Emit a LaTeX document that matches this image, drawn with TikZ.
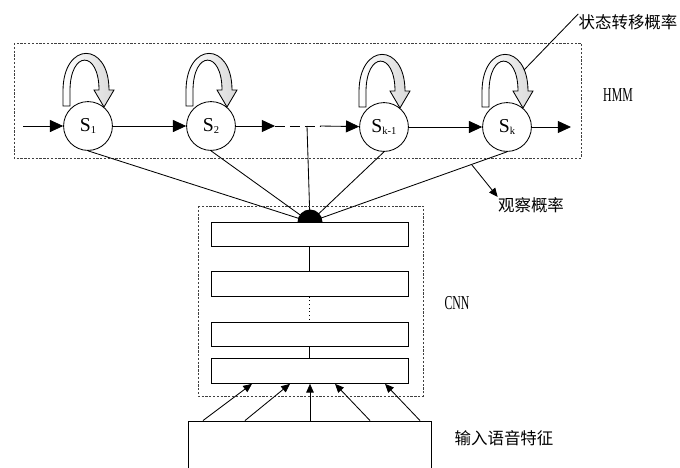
\documentclass[tikz,border=0pt]{standalone}
\usepackage{fontspec}
\usepackage{graphicx}
\setmainfont{Liberation Serif}
\newfontfamily\cjk{Noto Sans CJK SC}
\usetikzlibrary{arrows.meta}
\newcommand\statesub[1]{\raisebox{-0.3ex}{\fontsize{7.5}{8}\selectfont #1}}
\newcommand\narrowtext[1]{\scalebox{0.6}[1]{\fontsize{14}{14}\selectfont #1}}

\begin{document}
\begin{tikzpicture}[x=0.025cm,y=-0.025cm,line width=0.6pt]
\useasboundingbox (0,0) rectangle (680,468);
\clip (0,0) rectangle (680,468);

\tikzset{state/.style={circle,draw,fill=white,minimum size=1.22cm,inner sep=0pt,font=\fontsize{14}{14}\selectfont}};
\tikzset{layer/.style={rectangle,draw,minimum width=4.925cm,minimum height=0.62cm,inner sep=0pt}};
\tikzset{box/.style={draw=black!75,dash pattern=on 1.6pt off 1.1pt}};
\tikzset{bigarr/.style={-{Triangle[length=0.33cm,width=0.3cm]}}};
\tikzset{smallarr/.style={-{Triangle[length=0.22cm,width=0.19cm]}}};
\tikzset{cjklabel/.style={font=\cjk\fontsize{11.7}{12}\selectfont,inner sep=0pt}};

% HMM
\draw[box] (14,43) rectangle (581,158);
\node[state] (s1) at (88,126) {S\statesub{1}};
\node[state] (s2) at (211,126) {S\statesub{2}};
\node[state] (sk1) at (384,127) {S\statesub{k-1}};
\node[state] (sk) at (507,127) {S\statesub{k}};
\coordinate (in) at (23,126);
\coordinate (out) at (571,127);
\coordinate (gapA) at (275,126);
\coordinate (gapB) at (320,126);
\coordinate (mid) at (307,126);
\coordinate (hub) at (310,222);

\path (in) edge [bigarr] (s1);
\path (s1) edge [bigarr] (s2);
\path (s2) edge [bigarr] (gapA);
\path (gapA) edge [dash pattern=on 7pt off 3.6pt] (gapB);
\path (gapB) edge [bigarr] (sk1);
\path (sk1) edge [bigarr] (sk);
\path (sk) edge [bigarr] (out);

% self loops
\foreach \s in {s1,s2,sk1,sk}
  \shade[draw,left color=white,right color=gray!30,shift={(\s.center)}]
    (-25,-20) -- (-25,-35) .. controls (-25,-85) and (21,-85) .. (21,-36)
    -- (26,-36) -- (16,-19) -- (6,-36) -- (11,-36)
    .. controls (11,-76) and (-18,-76) .. (-18,-35) -- (-18,-20) -- cycle;

\node[cjklabel] (tlabel) at (628,22) {状态转移概率};
\coordinate (loopk) at (524,70);
\path (tlabel.north west) edge (loopk);
\node (hmmlabel) at (618,95) {\narrowtext{HMM}};

% observation
\foreach \s in {s1,s2,sk1,sk}
  \path (\s.south) edge (hub);
\path (mid) edge (hub);
\fill (hub) ++(-12.5,0) arc[start angle=180,end angle=360,radius=12.5] -- cycle;
\path (sk.south) -- (hub) coordinate[pos=0.18] (obsfoot);
\node[cjklabel] (obslabel) at (531,205) {观察概率};
\path (obsfoot) edge [smallarr] (obslabel.north west);

% CNN
\draw[box] (198,206) rectangle (423,396);
\node[layer] (l1) at (309.5,234.5) {};
\node[layer] (l2) at (309.5,284) {};
\node[layer] (l3) at (309.5,334.5) {};
\node[layer] (l4) at (309.5,371) {};
\path (l1) edge (l2);
\path (l2) edge [dotted] (l3);
\path (l3) edge (l4);
\node (cnnlabel) at (457,303) {\narrowtext{CNN}};

% input
\node[draw,minimum width=6.075cm,minimum height=1.5cm,inner sep=0pt] (feat) at (309.5,451) {};
\foreach \a/\b in {203/252,245/290,310/310,370/335,420/385}
  \path (\a,0 |- feat.north) edge [smallarr] (\b,0 |- l4.south);
\node[cjklabel] (featlabel) at (504,438) {输入语音特征};
\end{tikzpicture}
\end{document}
